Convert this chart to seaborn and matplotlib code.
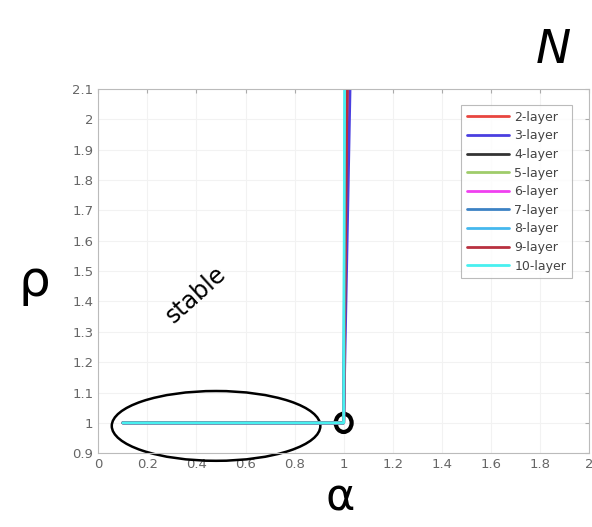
import numpy as np
import pandas as pd
import matplotlib.pyplot as plt
import seaborn as sns
from matplotlib.patches import Ellipse

sns.set_style('white')

# data
layers = ['2-layer', '3-layer', '4-layer', '5-layer', '6-layer',
          '7-layer', '8-layer', '9-layer', '10-layer']
colors = ['#e8453f', '#4a3fe0', '#333333', '#9fcc6a', '#f040f0',
          '#3c82c4', '#45b8ee', '#b8303f', '#48f0f0']
alpha_start = 0.1
alpha_knee = 1.0
alpha_top = [1.016, 1.026, 1.012, 1.010, 1.011, 1.008, 1.006, 1.014, 1.004]
rho_flat = 1.0
rho_top = 2.1

rows = []
for name, top in zip(layers, alpha_top):
    rows.append((name, 0, alpha_start, rho_flat))
    rows.append((name, 1, alpha_knee, rho_flat))
    rows.append((name, 2, top, rho_top))
df = pd.DataFrame(rows, columns=['layer', 'i', 'alpha', 'rho'])

fig = plt.figure(figsize=(5.92, 5.27), dpi=100)
ax = fig.add_axes([0.166, 0.140, 0.829, 0.691])

sns.lineplot(data=df, x='alpha', y='rho', hue='layer', hue_order=layers,
             palette=colors, sort=False, estimator=None, linewidth=2, ax=ax)

ax.set_xlim(0, 2)
ax.set_ylim(0.9, 2.1)
ax.set_xticks(np.arange(0, 2.01, 0.2))
ax.set_xticklabels(['0', '0.2', '0.4', '0.6', '0.8', '1', '1.2', '1.4', '1.6', '1.8', '2'])
ax.set_yticks(np.arange(0.9, 2.11, 0.1))
ax.set_yticklabels(['0.9', '1', '1.1', '1.2', '1.3', '1.4', '1.5', '1.6', '1.7',
                    '1.8', '1.9', '2', '2.1'])
ax.tick_params(direction='in', length=3, colors='#aaaaaa', labelcolor='#666666',
               labelsize=9.5, top=True, right=True)
ax.grid(True, color='#f2f2f2', linewidth=0.8)
for s in ax.spines.values():
    s.set_color('#bbbbbb')
ax.set_xlabel('')
ax.set_ylabel('')

leg = ax.legend(loc='upper right', bbox_to_anchor=(0.965, 0.956), borderaxespad=0,
                fontsize=9, frameon=True, fancybox=False, handlelength=3.4,
                labelspacing=0.45, borderpad=0.45, handletextpad=0.4)
leg.get_frame().set_edgecolor('#aaaaaa')
leg.get_frame().set_linewidth(0.8)
for t in leg.get_texts():
    t.set_color('#444444')

# hand-drawn marks
ax.add_patch(Ellipse((0.48, 0.99), 0.85, 0.23, angle=0, fill=False,
                     edgecolor='black', linewidth=1.8, clip_on=False))
ax.add_patch(Ellipse((1.0, 1.0), 0.065, 0.06, fill=False,
                     edgecolor='black', linewidth=3, clip_on=False))
fig.text(0.935, 0.905, 'N', fontsize=34, color='black', ha='center', va='center',
         style='italic', family='DejaVu Sans')
fig.text(0.058, 0.465, 'ρ', fontsize=36, color='black', ha='center', va='center',
         family='DejaVu Sans')
fig.text(0.33, 0.44, 'stable', fontsize=17, color='black', ha='center', va='center',
         rotation=42, family='DejaVu Sans')
fig.text(0.575, 0.055, 'α', fontsize=32, color='black', ha='center', va='center',
         family='DejaVu Sans')

fig.savefig('out.png', dpi=100)
